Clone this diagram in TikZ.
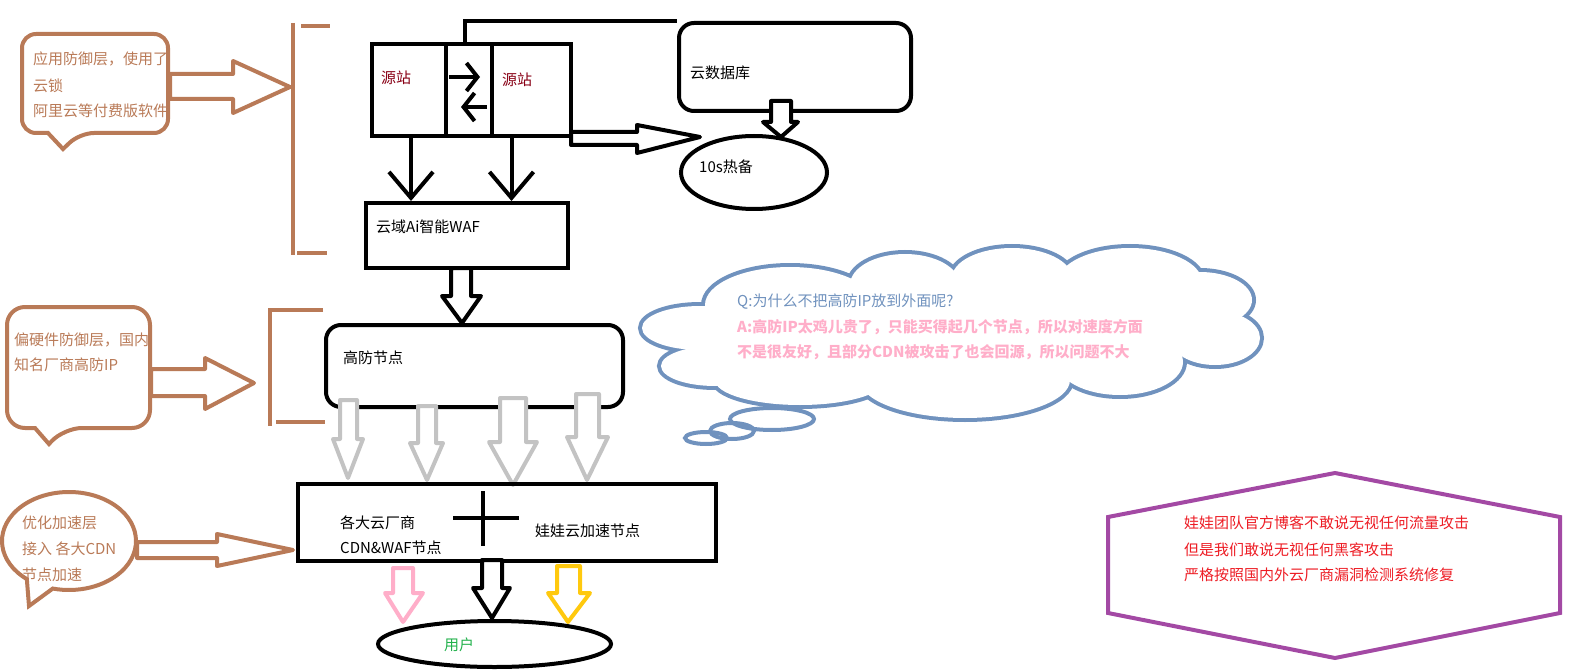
\documentclass[tikz,border=0pt]{standalone}
\usepackage{fontspec}
\setmainfont{Noto Sans CJK SC}
\usetikzlibrary{arrows.meta,shapes.geometric}

% flechas de bloque (contorno, relleno blanco)
\newcommand{\blkdown}[8]{%
  \filldraw[#1] (#2,#4) -- (#3,#4) -- (#3,#5) -- (#7,#5) -- (#8) -- (#6,#5) -- (#2,#5) -- cycle;}
\newcommand{\blkright}[8]{%
  \filldraw[#1] (#2,#3) -- (#5,#3) -- (#5,#6) -- (#8) -- (#5,#7) -- (#5,#4) -- (#2,#4) -- cycle;}

\tikzset{
  box/.style={draw, line width=4pt, inner sep=0pt},
  rbox/.style={box, rounded corners=15pt},
  oval/.style={draw, ellipse, line width=4pt, inner sep=0pt},
  lbl/.style={anchor=west, inner sep=0pt},
  blk/.style={draw=black, fill=white, line width=4pt, line join=round},
  barb/.style={line width=4pt, -{Straight Barb[length=11pt, width=28pt]}},
  vbarb/.style={line width=4pt, -{Straight Barb[length=26pt, width=44pt]}},
}

\begin{document}
\begin{tikzpicture}[x=1pt, y=-1pt, font=\fontsize{15}{18}\selectfont]
    % --- Colores ---
    \definecolor{brownln}{HTML}{B97A57}  \definecolor{yzred}{HTML}{880015}
    \definecolor{grayar}{HTML}{C3C3C3}   \definecolor{pinkar}{HTML}{FFAEC9}
    \definecolor{yellowar}{HTML}{FFC90E} \definecolor{greentx}{HTML}{22B14C}
    \definecolor{bluecl}{HTML}{7092BE}   \definecolor{purplehx}{HTML}{A349A4}
    \definecolor{redtx}{HTML}{ED1C24}

    \useasboundingbox (0,0) rectangle (1574,671);

    % --- Capa de aplicacion: burbuja + flecha + corchete ---
    \draw[brownln, line width=4pt] (63,149) -- (48,133) [rounded corners=14pt] -- (22,133) -- (22,34) -- (168,34) -- (168,133) -- (80,133) [sharp corners] -- cycle;
    \node[lbl, brownln] (b1a) at (33,59) {应用防御层，使用了};
    \node[lbl, brownln] (b1b) at (33,86) {云锁};
    \node[lbl, brownln] (b1c) at (33,111) {阿里云等付费版软件};
    \blkright{blk, draw=brownln}{170}{74}{99}{233}{61}{113}{290,87}
    \draw[brownln, line width=4pt] (293,23) -- (293,255);
    \draw[brownln, line width=4pt] (301,26) -- (330,26);
    \draw[brownln, line width=4pt] (297,253) -- (327,253);

    % --- Origenes ---
    \node[box, minimum width=74pt, minimum height=92pt] (yzL) at (409,90) {};
    \node[box, minimum width=46pt, minimum height=92pt] (yzM) at (469,90) {};
    \node[box, minimum width=79pt, minimum height=92pt] (yzR) at (531.5,90) {};
    \node[lbl, yzred] (yzLt) at (381,78) {源站};
    \node[lbl, yzred] (yzRt) at (502,80) {源站};
    \draw[barb] ([xshift=-20pt, yshift=13pt]yzM.center) -- ([xshift=11pt, yshift=13pt]yzM.center);
    \draw[barb] ([xshift=18pt, yshift=-17pt]yzM.center) -- ([xshift=-8pt, yshift=-17pt]yzM.center);

    % --- Base de datos y respaldo ---
    \node[rbox, minimum width=232pt, minimum height=88pt] (db) at (795,67) {};
    \node[lbl] (dbt) at (690,73) {云数据库};
    \draw[line width=4pt] ([xshift=-4pt]yzM.north) |- (db.north west);
    \node[oval, minimum width=146pt, minimum height=73pt] (rb) at (754,172.5) {};
    \node[lbl] (rbt) at (699,167) {10s热备};
    \blkright{blk}{571}{132}{145}{637}{125}{153}{700,137}
    \blkdown{blk}{771}{791}{101}{122}{763}{798}{781,137}

    % --- WAF ---
    \node[box, minimum width=202pt, minimum height=65pt] (waf) at (467,235.5) {};
    \node[lbl] (waft) at (376,227) {云域Ai智能WAF};
    \coordinate (v1) at ([xshift=2pt]yzL.south);
    \coordinate (v2) at ([xshift=-20pt]yzR.south);
    \draw[vbarb] (v1) -- (v1 |- waf.north);
    \draw[vbarb] (v2) -- (v2 |- waf.north);
    \blkdown{blk}{451}{471}{268}{296}{442}{481}{462,323}

    % --- Capa de hardware: burbuja + flecha + corchete ---
    \draw[brownln, line width=4pt] (49,444) -- (35,428) [rounded corners=18pt] -- (7,428) -- (7,307) -- (150,307) -- (150,428) -- (64,428) [sharp corners] -- cycle;
    \node[lbl, brownln] (b2a) at (14,340) {偏硬件防御层，国内};
    \node[lbl, brownln] (b2b) at (14,365) {知名厂商高防IP};
    \blkright{blk, draw=brownln}{151}{369}{396}{205}{358}{409}{254,383}
    \draw[brownln, line width=4pt] (323,310) -- (270,310) -- (270,426);
    \draw[brownln, line width=4pt] (276,422) -- (325,422);

    % --- Nodo de alta defensa ---
    \node[rbox, minimum width=297pt, minimum height=82pt] (gf) at (474.5,366) {};
    \node[lbl] (gft) at (343,358) {高防节点};
    \blkdown{blk, draw=grayar}{340}{357}{400}{439}{333}{363}{348,478}
    \blkdown{blk, draw=grayar}{418}{436}{406}{443}{410}{443}{427,480}
    \blkdown{blk, draw=grayar}{500}{526}{398}{442}{489}{537}{513,485}
    \blkdown{blk, draw=grayar}{576}{599}{394}{437}{567}{608}{587,480}

    % --- CDN ---
    \node[box, minimum width=418pt, minimum height=77pt] (cdn) at (507,522.5) {};
    \draw[line width=4pt] (483,491) -- (483,546);
    \draw[line width=4pt] (453,518) -- (519,518);
    \node[lbl] (cdnA) at (340,523) {各大云厂商};
    \node[lbl] (cdnB) at (340,548) {CDN\&WAF节点};
    \node[lbl] (cdnC) at (535,531) {娃娃云加速节点};

    % --- Capa de aceleracion: burbuja + flecha ---
    \draw[brownln, line width=4pt] (69,541) ++(129:67 and 49) arc[start angle=129, end angle=464, x radius=67, y radius=49] -- (29,606) -- cycle;
    \node[lbl, brownln] (b3a) at (22,523) {优化加速层};
    \node[lbl, brownln] (b3b) at (22,549) {接入 各大CDN};
    \node[lbl, brownln] (b3c) at (22,575) {节点加速};
    \blkright{blk, draw=brownln}{137}{542}{558}{217}{534}{566}{293,550}

    % --- Usuario ---
    \blkdown{blk, draw=pinkar}{393}{413}{568}{593}{385}{423}{403,622}
    \blkdown{blk}{482}{502}{560}{588}{473}{510}{492,618}
    \blkdown{blk, draw=yellowar}{557}{580}{566}{593}{548}{590}{568,622}
    \node[oval, minimum width=233pt, minimum height=46pt] (yh) at (494.5,644) {};
    \node[lbl, greentx] (yht) at (444,645) {用户};

    % --- Nube Q/A ---
    \def\cloudbumps{700/328/58/22, 715/366/54/20, 800/380/85/25, 965/380/105/38, 1120/362/63/33, 1215/338/45/27, 1200/300/52/28, 1130/282/72/34, 1012/278/60/30, 905/285/55/31, 790/305/85/38}
    \foreach \cx/\cy/\rx/\ry in \cloudbumps {
        \draw[bluecl, line width=8pt] (\cx,\cy) ellipse [x radius=\rx, y radius=\ry];
    }
    \foreach \cx/\cy/\rx/\ry in \cloudbumps {
        \fill[white] (\cx,\cy) ellipse [x radius=\rx, y radius=\ry];
    }
    \fill[white] (955,332) ellipse [x radius=230, y radius=45];
    \fill[white] (760,350) ellipse [x radius=45, y radius=20];
    \draw[bluecl, line width=4pt] (772,419) ellipse [x radius=42, y radius=11];
    \draw[bluecl, line width=4pt] (732,431) ellipse [x radius=22, y radius=8];
    \draw[bluecl, line width=4pt] (706,438) ellipse [x radius=21, y radius=6];
    \node[lbl, bluecl] (qt) at (737,302) {Q:为什么不把高防IP放到外面呢?};
    \node[lbl, pinkar, font=\fontsize{15}{18}\selectfont\bfseries] (at1) at (737,327) {A:高防IP太鸡儿贵了，只能买得起几个节点，所以对速度方面};
    \node[lbl, pinkar, font=\fontsize{15}{18}\selectfont\bfseries] (at2) at (737,352) {不是很友好，且部分CDN被攻击了也会回源，所以问题不大};

    % --- Hexagono ---
    \draw[purplehx, line width=4pt] (1335,473) -- (1560,517) -- (1560,613) -- (1335,658) -- (1108,613) -- (1108,517) -- cycle;
    \node[lbl, redtx] (h1) at (1184,523) {娃娃团队官方博客不敢说无视任何流量攻击};
    \node[lbl, redtx] (h2) at (1184,550) {但是我们敢说无视任何黑客攻击};
    \node[lbl, redtx] (h3) at (1184,575) {严格按照国内外云厂商漏洞检测系统修复};
\end{tikzpicture}
\end{document}
